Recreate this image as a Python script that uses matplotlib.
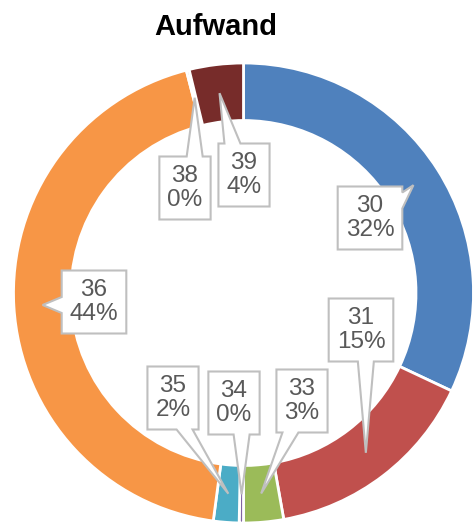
import matplotlib; matplotlib.use("Agg")
import matplotlib.pyplot as plt
import numpy as np
from matplotlib.patches import Polygon

cats=["30","31","33","34","35","36","38","39"]
vals=[32.0,15.2,2.8,0.3,1.8,43.9,0.2,3.8]
colors=["#4F81BD","#C0504D","#9BBB59","#8064A2","#4BACC6","#F79646","#2C4D75","#772C2A"]
# callout box centres, in canvas pixels
box_px={"30":(370,218),"31":(361,330),"33":(302,401),"34":(234,403),
        "35":(173,398),"36":(94,302),"38":(185,188),"39":(244,175)}

W,H=477,525; CX,CY,R=243.5,293,230
FONT="Liberation Sans"
fig=plt.figure(figsize=(W/100,H/100),dpi=100)
ax=fig.add_axes([0,0,1,1]); ax.axis("off")
ax.pie(vals,colors=colors,startangle=90,counterclock=False,radius=1,
       wedgeprops=dict(width=0.25,edgecolor="white",linewidth=2))
ax.set_aspect("auto"); ax.set_xlim(-CX/R,(W-CX)/R); ax.set_ylim((CY-H)/R,CY/R)

def callout(bx,by,hw,hh,tx,ty,bw,m):
    L,Rt,T,B=bx-hw,bx+hw,by+hh,by-hh
    nx,ny=(tx-bx)/hw,(ty-by)/hh
    if abs(ny)>=abs(nx):
        c=np.clip(tx,L+bw/2+m,Rt-bw/2-m)
        if ny>0: pts=[(L,T),(c-bw/2,T),(tx,ty),(c+bw/2,T),(Rt,T),(Rt,B),(L,B)]
        else:    pts=[(L,T),(Rt,T),(Rt,B),(c+bw/2,B),(tx,ty),(c-bw/2,B),(L,B)]
    else:
        c=np.clip(ty,B+bw/2+m,T-bw/2-m)
        if nx>0: pts=[(L,T),(Rt,T),(Rt,c+bw/2),(tx,ty),(Rt,c-bw/2),(Rt,B),(L,B)]
        else:    pts=[(L,T),(Rt,T),(Rt,B),(L,B),(L,c-bw/2),(tx,ty),(L,c+bw/2)]
    return pts

rend=fig.canvas.get_renderer()
cum=np.cumsum([0]+vals[:-1])
for cat,v,c0 in zip(cats,vals,cum):
    ang=np.deg2rad(90-(c0+v/2)*3.6)
    tx,ty=0.875*np.cos(ang),0.875*np.sin(ang)
    px,py=box_px[cat]; bx,by=(px-CX)/R,(CY-py)/R
    t=ax.text(bx,by,f"{cat}\n{round(v)}%",ha="center",va="center",fontsize=17.5,
              color="#595959",family=FONT,linespacing=1.15,zorder=5)
    ext=t.get_window_extent(rend)
    hw=(ext.width/2+8)/R; hh=31.5/R
    poly=Polygon(callout(bx,by,hw,hh,tx,ty,16/R,6/R),closed=True,facecolor="white",
                 edgecolor="#BFBFBF",lw=1.5,zorder=4)
    ax.add_patch(poly)

fig.text(215.5/W,1-35/H,"Aufwand",ha="center",va="baseline",fontsize=21,
         fontweight="bold",family=FONT,color="black")
plt.savefig("out.png",dpi=100); plt.close()
